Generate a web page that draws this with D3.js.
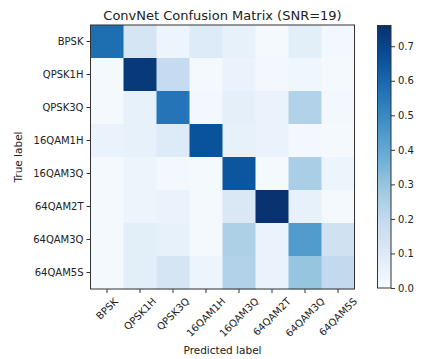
<!DOCTYPE html>
<html>
<head>
<meta charset="utf-8">
<script src="https://cdn.jsdelivr.net/npm/d3@7"></script>
<style>
  body { margin: 0; background: #fff; }
  text { font-family: "DejaVu Sans", sans-serif; fill: #222; }
</style>
</head>
<body>
<div id="chart"></div>
<script>
// class names (rows = true, columns = predicted)
var classes = ["BPSK", "QPSK1H", "QPSK3Q", "16QAM1H", "16QAM3Q", "64QAM2T", "64QAM3Q", "64QAM5S"];

// confusion matrix rows
var rowBPSK    = [0.58, 0.13, 0.04, 0.10, 0.06, 0.01, 0.08, 0.02];
var rowQPSK1H  = [0.01, 0.73, 0.19, 0.01, 0.05, 0.02, 0.03, 0.01];
var rowQPSK3Q  = [0.01, 0.06, 0.56, 0.02, 0.07, 0.05, 0.24, 0.02];
var row16QAM1H = [0.05, 0.06, 0.10, 0.66, 0.06, 0.05, 0.02, 0.01];
var row16QAM3Q = [0.01, 0.04, 0.02, 0.01, 0.65, 0.01, 0.26, 0.04];
var row64QAM2T = [0.01, 0.04, 0.05, 0.01, 0.11, 0.75, 0.06, 0.01];
var row64QAM3Q = [0.01, 0.08, 0.06, 0.01, 0.25, 0.05, 0.44, 0.15];
var row64QAM5S = [0.01, 0.08, 0.13, 0.04, 0.24, 0.05, 0.30, 0.20];
var matrix = [rowBPSK, rowQPSK1H, rowQPSK3Q, row16QAM1H, row16QAM3Q, row64QAM2T, row64QAM3Q, row64QAM5S];

var cbTicks = [0.0, 0.1, 0.2, 0.3, 0.4, 0.5, 0.6, 0.7];
var vmax = 0.76;

// matplotlib "Blues" stops (linear between them)
var blues = ["#f7fbff", "#deebf7", "#c6dbef", "#9ecae1", "#6baed6", "#4292c6", "#2171b5", "#08519c", "#08306b"];

var width = 422, height = 359;
var plotLeft = 90.5, plotTop = 25, size = 264;

var svg = d3.select("#chart").append("svg")
    .attr("width", width)
    .attr("height", height);

var x = d3.scaleBand().domain(classes).range([plotLeft, plotLeft + size]);
var y = d3.scaleBand().domain(classes).range([plotTop, plotTop + size]);
var blueScale = d3.scaleLinear()
    .domain(d3.range(blues.length).map(function (i) { return i / (blues.length - 1); }))
    .range(blues)
    .interpolate(d3.interpolateRgb)
    .clamp(true);
var color = function (v) { return blueScale(v / vmax); };

//flatten the cells
var cells = [];
matrix.forEach(function (row, i) {
    row.forEach(function (v, j) {
        cells.push({ t: classes[i], p: classes[j], v: v });
    });
});

svg.append("g").selectAll("rect")
    .data(cells)
    .enter()
    .append("rect")
    .attr("x", function (d) { return x(d.p); })
    .attr("y", function (d) { return y(d.t); })
    .attr("width", x.bandwidth() + 0.5)
    .attr("height", y.bandwidth() + 0.5)
    .attr("fill", function (d) { return color(d.v); });

// frame
svg.append("rect")
    .attr("x", plotLeft).attr("y", plotTop)
    .attr("width", size).attr("height", size)
    .attr("fill", "none").attr("stroke", "#333").attr("stroke-width", 1);

// axes
var yAxis = svg.append("g")
    .attr("transform", "translate(" + plotLeft + ",0)")
    .call(d3.axisLeft(y).tickSize(4).tickPadding(3));
var xAxis = svg.append("g")
    .attr("transform", "translate(0," + (plotTop + size) + ")")
    .call(d3.axisBottom(x).tickSize(4).tickPadding(3));

[yAxis, xAxis].forEach(function (a) {
    a.select(".domain").remove();
    a.selectAll(".tick line").attr("stroke", "#333");
    a.selectAll("text").style("font-size", "10px").attr("fill", "#222");
});

// rotated x labels, box centred under the tick (matplotlib rotation=45)
xAxis.selectAll(".tick text")
    .attr("text-anchor", "middle")
    .attr("y", 0)
    .attr("dy", "0.35em")
    .attr("transform", function () {
        var len = this.getComputedTextLength();
        var half = (len + 10) * Math.SQRT1_2 / 2;
        return "translate(0," + (7 + half) + ") rotate(-45)";
    });

svg.append("text")
    .attr("x", plotLeft + size / 2).attr("y", 20)
    .attr("text-anchor", "middle")
    .style("font-size", "13px")
    .text("ConvNet Confusion Matrix (SNR=19)");

svg.append("text")
    .attr("x", plotLeft + size / 2).attr("y", 354)
    .attr("text-anchor", "middle")
    .style("font-size", "10.5px")
    .text("Predicted label");

svg.append("text")
    .attr("transform", "translate(22," + (plotTop + size / 2) + ") rotate(-90)")
    .attr("text-anchor", "middle")
    .style("font-size", "10.5px")
    .text("True label");

// colorbar
var cbX = 377.5, cbW = 13.5, cbTop = 25.5, cbBottom = 288;
var cbScale = d3.scaleLinear().domain([0, vmax]).range([cbBottom, cbTop]);

var defs = svg.append("defs");
var grad = defs.append("linearGradient")
    .attr("id", "cbGrad")
    .attr("x1", 0).attr("y1", 1).attr("x2", 0).attr("y2", 0);
d3.range(0, 1.0001, 0.05).forEach(function (t) {
    grad.append("stop")
        .attr("offset", t)
        .attr("stop-color", blueScale(t));
});

svg.append("rect")
    .attr("x", cbX).attr("y", cbTop)
    .attr("width", cbW).attr("height", cbBottom - cbTop)
    .attr("fill", "url(#cbGrad)")
    .attr("stroke", "#333").attr("stroke-width", 1);

var cbAxis = svg.append("g")
    .attr("transform", "translate(" + (cbX + cbW) + ",0)")
    .call(d3.axisRight(cbScale).tickValues(cbTicks).tickFormat(d3.format(".1f")).tickSize(4).tickPadding(3));
cbAxis.select(".domain").remove();
cbAxis.selectAll(".tick line").attr("stroke", "#333");
cbAxis.selectAll("text").style("font-size", "10px").attr("fill", "#222");
</script>
</body>
</html>
